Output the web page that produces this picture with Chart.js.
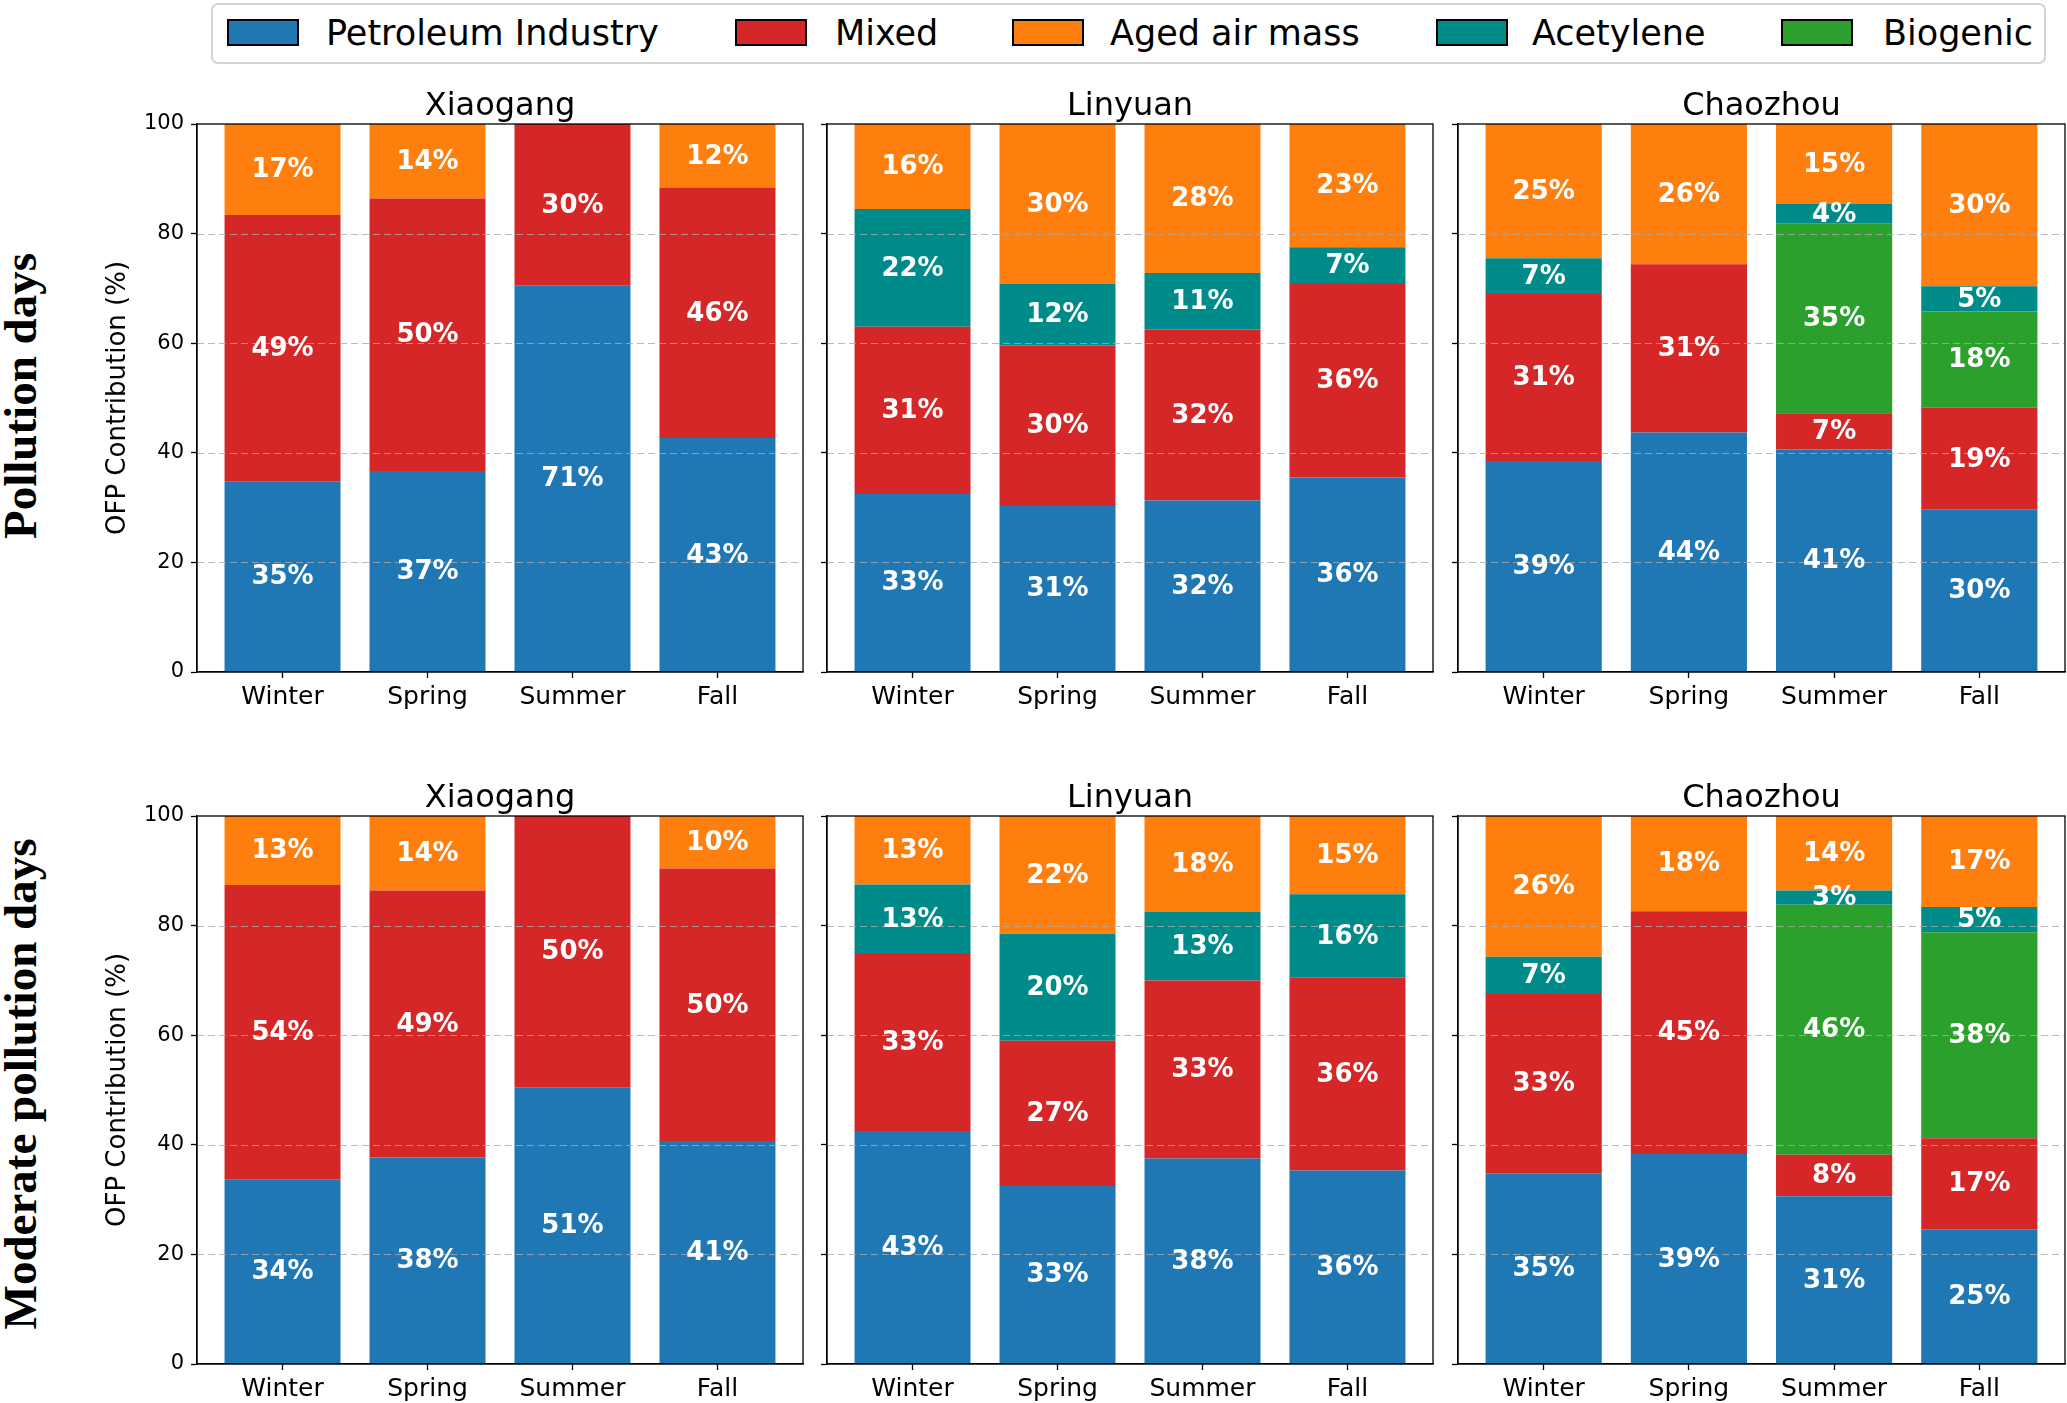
<!DOCTYPE html>
<html>
<head>
<meta charset="utf-8">
<title>OFP contribution by source</title>
<script src="https://cdn.jsdelivr.net/npm/chart.js@4.4.1/dist/chart.umd.min.js"></script>
<style>
  body { margin: 0; width: 2067px; height: 1403px; overflow: hidden; background: #fff; position: relative; font-family: "DejaVu Sans", sans-serif; }
  canvas.panel { position: absolute; }
  #legend { position: absolute; left: 211px; top: 3px; width: 1835px; height: 61px; border: 2px solid #d4d4d4; border-radius: 7px; box-sizing: border-box; }
  .patch { position: absolute; top: 14px; width: 72px; height: 27px; border: 2px solid #000; box-sizing: border-box; }
  .ltext { position: absolute; top: 28px; transform: translateY(-50%); font-size: 35px; line-height: 1; color: #000; white-space: nowrap; }
  .rowlabel { position: absolute; font-family: "Liberation Serif", serif; font-weight: bold; font-size: 47px; white-space: nowrap; transform: translate(-50%, -50%) rotate(-90deg); }
</style>
</head>
<body>
<div id="legend"></div>
<div class="rowlabel" style="left:20px; top:396px;">Pollution days</div>
<div class="rowlabel" style="left:20px; top:1084px;">Moderate pollution days</div>

<script>
// data, one value per season [Winter, Spring, Summer, Fall] for each site
const sites = ["Xiaogang", "Linyuan", "Chaozhou"];
const seasons = ["Winter", "Spring", "Summer", "Fall"];

// pollution days
const petroleumPollution = [[34.7, 36.7, 70.5, 42.7], [32.5, 30.3, 31.3, 35.5], [38.5, 43.7, 40.6, 29.6]];
const mixedPollution     = [[48.7, 49.7, 29.5, 45.7], [30.5, 29.3, 31.2, 35.5], [30.5, 30.7, 6.6, 18.6]];
const biogenicPollution  = [[0, 0, 0, 0], [0, 0, 0, 0], [0, 0, 34.6, 17.6]];
const acetylenePollution = [[0, 0, 0, 0], [21.5, 11.2, 10.3, 6.5], [6.5, 0, 3.6, 4.6]];
const agedPollution      = [[16.6, 13.6, 0, 11.6], [15.5, 29.2, 27.2, 22.5], [24.5, 25.6, 14.6, 29.6]];

// moderate pollution days
const petroleumModerate = [[33.7, 37.7, 50.5, 40.7], [42.5, 32.5, 37.5, 35.3], [34.8, 38.3, 30.6, 24.6]];
const mixedModerate     = [[53.7, 48.7, 49.5, 49.7], [32.5, 26.5, 32.5, 35.2], [32.7, 44.3, 7.6, 16.6]];
const biogenicModerate  = [[0, 0, 0, 0], [0, 0, 0, 0], [0, 0, 45.6, 37.6]];
const acetyleneModerate = [[0, 0, 0, 0], [12.5, 19.5, 12.5, 15.2], [6.8, 0, 2.6, 4.6]];
const agedModerate      = [[12.6, 13.6, 0, 9.6], [12.5, 21.5, 17.5, 14.3], [25.7, 17.4, 13.6, 16.6]];

const yTicks = [0, 20, 40, 60, 80, 100];

// source names and colours (stack order is bottom to top)
const sources = ["Petroleum Industry", "Mixed", "Biogenic", "Acetylene", "Aged air mass"];
const colors = ["#1f77b4", "#d62728", "#2ca02c", "#008b8b", "#ff7f0e"];
const legendOrder = [0, 1, 4, 3, 2];

const rowsData = [
  [petroleumPollution, mixedPollution, biogenicPollution, acetylenePollution, agedPollution],
  [petroleumModerate, mixedModerate, biogenicModerate, acetyleneModerate, agedModerate]
];

// plot areas in page pixels
const colBox = [{ left: 197, right: 803 }, { left: 827, right: 1433 }, { left: 1458, right: 2065 }];
const rowBox = [{ top: 124, bottom: 672 }, { top: 816, bottom: 1364 }];

Chart.defaults.font.family = "'DejaVu Sans'";
Chart.defaults.color = "#000";

// legend across the top
const legendX = [{ patch: 14, text: 113 }, { patch: 522, text: 622 }, { patch: 799, text: 897 }, { patch: 1223, text: 1319 }, { patch: 1568, text: 1670 }];
const legendEl = document.getElementById("legend");
legendOrder.forEach((s, k) => {
  const p = document.createElement("div");
  p.className = "patch";
  p.style.left = legendX[k].patch + "px";
  p.style.background = colors[s];
  legendEl.appendChild(p);
  const t = document.createElement("div");
  t.className = "ltext";
  t.style.left = legendX[k].text + "px";
  t.textContent = sources[s];
  legendEl.appendChild(t);
});

// grid over the bars, percent labels, frame and title
const panelDecor = {
  id: "panelDecor",
  afterDatasetsDraw(chart, args, opts) {
    const ctx = chart.ctx;
    const area = chart.chartArea;
    const y = chart.scales.y;
    ctx.save();

    ctx.strokeStyle = "rgba(170,170,170,0.8)";
    ctx.lineWidth = 1;
    ctx.setLineDash([7, 4]);
    yTicks.slice(1, -1).forEach(v => {
      const py = Math.round(y.getPixelForValue(v)) + 0.5;
      ctx.beginPath();
      ctx.moveTo(area.left, py);
      ctx.lineTo(area.right, py);
      ctx.stroke();
    });
    ctx.setLineDash([]);

    ctx.fillStyle = "#fff";
    ctx.font = "bold 26px 'DejaVu Sans'";
    ctx.textAlign = "center";
    ctx.textBaseline = "middle";
    chart.data.datasets.forEach((ds, i) => {
      chart.getDatasetMeta(i).data.forEach((bar, j) => {
        const v = ds.data[j].y;
        if (!v) return;
        ctx.fillText(Math.ceil(v) + "%", bar.x, (bar.y + bar.base) / 2 + 1);
      });
    });

    ctx.strokeStyle = "#000";
    ctx.lineWidth = 1.3;
    ctx.strokeRect(area.left, area.top, area.width, area.height);

    ctx.fillStyle = "#000";
    ctx.font = "32px 'DejaVu Sans'";
    ctx.textBaseline = "alphabetic";
    ctx.fillText(opts.title, (area.left + area.right) / 2, area.top - 9);
    ctx.restore();
  }
};

function makePanel(row, col) {
  const leftPad = col === 0 ? 102 : 14;
  const topPad = 70, rightPad = 2, bottomPad = 60;
  const c = colBox[col], r = rowBox[row];

  const canvas = document.createElement("canvas");
  canvas.className = "panel";
  canvas.width = leftPad + (c.right - c.left) + rightPad;
  canvas.height = topPad + (r.bottom - r.top) + bottomPad;
  canvas.style.left = (c.left - leftPad) + "px";
  canvas.style.top = (r.top - topPad) + "px";
  document.body.appendChild(canvas);

  const datasets = sources.map((name, s) => ({
    label: name,
    data: rowsData[row][s][col].map((v, i) => ({ x: i, y: v })),
    backgroundColor: colors[s],
    borderWidth: 0,
    barPercentage: 0.8,
    categoryPercentage: 1.0
  }));

  new Chart(canvas.getContext("2d"), {
    type: "bar",
    data: { datasets: datasets },
    plugins: [panelDecor],
    options: {
      responsive: false,
      animation: false,
      devicePixelRatio: 1,
      layout: { padding: { top: topPad, right: rightPad, left: 0, bottom: 0 } },
      plugins: {
        legend: { display: false },
        tooltip: { enabled: false },
        panelDecor: { title: sites[col] }
      },
      scales: {
        x: {
          type: "linear",
          stacked: true,
          min: -0.59,
          max: 3.59,
          offset: false,
          afterBuildTicks: s => { s.ticks = seasons.map((_, i) => ({ value: i })); },
          afterFit: s => { s.height = bottomPad; },
          ticks: { callback: v => seasons[v], font: { size: 25 }, padding: 4, maxRotation: 0, autoSkip: false },
          grid: { offset: false, drawOnChartArea: false, tickLength: 6, tickColor: "#000", tickWidth: 1.3 },
          border: { display: true, color: "#000", width: 1.3 }
        },
        y: {
          stacked: true,
          min: 0,
          max: 100,
          afterBuildTicks: s => { s.ticks = yTicks.map(v => ({ value: v })); },
          afterFit: s => { s.width = leftPad; },
          ticks: { callback: v => (col === 0 ? String(v) : ""), font: { size: 21 }, padding: 7 },
          grid: { drawOnChartArea: false, tickLength: 6, tickColor: "#000", tickWidth: 1.3 },
          border: { display: true, color: "#000", width: 1.3 },
          title: { display: col === 0, text: "OFP Contribution (%)", font: { size: 26 }, padding: { top: 8, bottom: 0 } }
        }
      }
    }
  });
}

for (let row = 0; row < 2; row++) {
  for (let col = 0; col < 3; col++) {
    makePanel(row, col);
  }
}
</script>
</body>
</html>
